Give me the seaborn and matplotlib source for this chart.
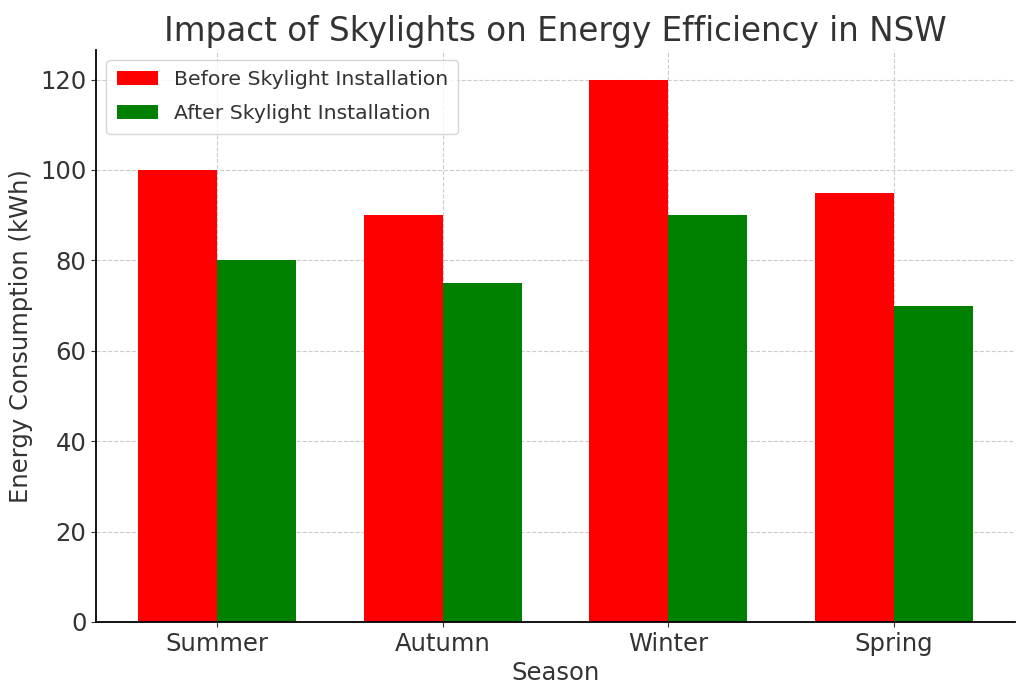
import matplotlib
matplotlib.use("Agg")
import matplotlib.pyplot as plt
import seaborn as sns
import pandas as pd

seasons = ["Summer", "Autumn", "Winter", "Spring"]
before = [100, 90, 120, 95]
after = [80, 75, 90, 70]
series_names = ["Before Skylight Installation", "After Skylight Installation"]

df = pd.DataFrame({
    "Season": seasons * 2,
    "Energy": before + after,
    "Period": [series_names[0]] * 4 + [series_names[1]] * 4,
})

TEXT = "#333333"
plt.rcParams["text.color"] = TEXT
plt.rcParams["axes.labelcolor"] = TEXT
plt.rcParams["xtick.color"] = TEXT
plt.rcParams["ytick.color"] = TEXT

fig, ax = plt.subplots(figsize=(10.24, 6.91), dpi=100)
sns.barplot(data=df, x="Season", y="Energy", hue="Period",
            palette=["red", "green"], width=0.7, gap=0, saturation=1,
            ax=ax, zorder=2)
ax.set_xlim(-0.535, 3.535)
ax.set_ylim(0, 126.6)
ax.set_title("Impact of Skylights on Energy Efficiency in NSW", fontsize=23.5)
ax.set_xlabel("Season", fontsize=17.5)
ax.set_ylabel("Energy Consumption (kWh)", fontsize=17.5, labelpad=5)
ax.tick_params(labelsize=17.5)
ax.grid(True, linestyle="--", color="#cccccc", linewidth=0.8, zorder=3)
ax.spines["top"].set_visible(False)
ax.spines["right"].set_visible(False)
ax.spines["left"].set_linewidth(1.3)
ax.spines["bottom"].set_linewidth(1.3)
ax.legend(title=None, fontsize=14.7, loc="upper left", frameon=True,
          labelspacing=0.75, borderpad=0.5)

fig.subplots_adjust(left=0.094, right=0.991, top=0.928, bottom=0.1)
fig.savefig("out.png", dpi=100)
